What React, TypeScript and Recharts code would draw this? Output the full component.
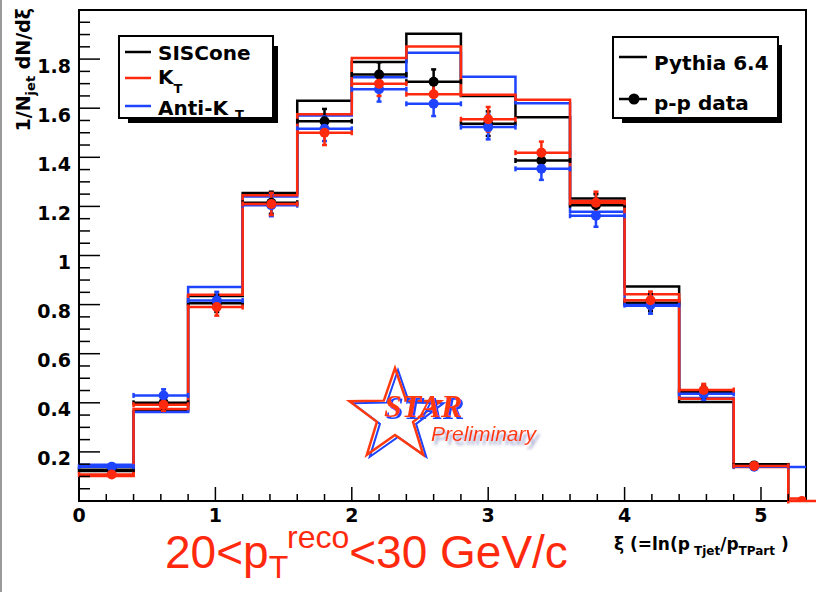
import React from 'react';
import { ComposedChart, Line, Scatter, ErrorBar, XAxis, YAxis, ReferenceArea } from 'recharts';

// xi bin edges (0.4 wide)
const binEdges = [0, 0.4, 0.8, 1.2, 1.6, 2.0, 2.4, 2.8, 3.2, 3.6, 4.0, 4.4, 4.8, 5.2, 5.6];

// Pythia 6.4, one value per bin
const pythiaSISCone = [0.122, 0.366, 0.835, 1.255, 1.63, 1.788, 1.903, 1.65, 1.563, 1.232, 0.874, 0.403, 0.15, 0];
const pythiaKt = [0.102, 0.375, 0.84, 1.245, 1.575, 1.804, 1.851, 1.655, 1.634, 1.222, 0.842, 0.417, 0.138, 0.01];
const pythiaAntiKt = [0.148, 0.363, 0.872, 1.24, 1.57, 1.726, 1.826, 1.728, 1.62, 1.178, 0.795, 0.42, 0.143, 0.138];

// p-p data points
const dataXi = [0.24, 0.62, 1.01, 1.41, 1.8, 2.2, 2.6, 3.0, 3.39, 3.79, 4.19, 4.58, 4.95, 5.3];
const dataSISCone = [0.127, 0.4, 0.805, 1.215, 1.547, 1.737, 1.708, 1.537, 1.387, 1.205, 0.808, 0.445, 0.145];
const dataKt = [0.108, 0.392, 0.79, 1.21, 1.5, 1.7, 1.657, 1.555, 1.419, 1.215, 0.818, 0.452, 0.143, 0];
const dataAntiKt = [0.14, 0.43, 0.817, 1.205, 1.516, 1.677, 1.618, 1.523, 1.353, 1.162, 0.798, 0.437, 0.14];
const dataErr = [0.01, 0.025, 0.035, 0.045, 0.05, 0.05, 0.05, 0.05, 0.045, 0.045, 0.035, 0.025, 0.01, 0];

// axis ticks
const xTicks = [0, 1, 2, 3, 4, 5];
const yTicks = [0.2, 0.4, 0.6, 0.8, 1, 1.2, 1.4, 1.6, 1.8];
const xMinor = Array.from({ length: 27 }, (_, i) => +(i * 0.2).toFixed(1));
const yMinor = Array.from({ length: 39 }, (_, i) => +((i + 1) * 0.05).toFixed(2));

const X_MAX = 5.33;
const Y_MAX = 2.0;

const RED = '#ff2a0e';
const BLUE = '#1e44ff';
const BLACK = '#000000';
const LOGO_RED = '#ff3a10';
const TICK_FONT = '"DejaVu Sans", sans-serif';

const histRows = binEdges.map((x, i) => {
  const b = Math.min(i, pythiaKt.length - 1);
  return { x, siscone: pythiaSISCone[b], kt: pythiaKt[b], antikt: pythiaAntiKt[b] };
});

function points(values: number[]) {
  return values.map((y, i) => {
    const xi = dataXi[i];
    const b = Math.min(Math.floor(xi / 0.4), binEdges.length - 2);
    return { x: xi, y, ey: dataErr[i], ex: [xi - binEdges[b], binEdges[b + 1] - xi] };
  });
}

const isMajor = (list: number[], v: number) => list.some((t) => Math.abs(t - v) < 1e-6);

const XTick = (props: any) => {
  const { x, y, payload } = props;
  const major = isMajor(xTicks, payload.value);
  return (
    <g>
      <line x1={x} x2={x} y1={y} y2={y - (major ? 14 : 7)} stroke={BLACK} strokeWidth={1.5} />
      {major && (
        <text x={x} y={y + 21} textAnchor="middle" fontFamily={TICK_FONT} fontWeight="bold" fontSize={19} fill={BLACK}>
          {String(payload.value)}
        </text>
      )}
    </g>
  );
};

const YTick = (props: any) => {
  const { x, y, payload } = props;
  const major = isMajor(yTicks, payload.value);
  return (
    <g>
      <line x1={x} x2={x + (major ? 21 : 11)} y1={y} y2={y} stroke={BLACK} strokeWidth={1.5} />
      {major && (
        <text x={x - 8} y={y + 6.5} textAnchor="end" dominantBaseline="central" fontFamily={TICK_FONT} fontWeight="bold" fontSize={19} fill={BLACK}>
          {String(payload.value)}
        </text>
      )}
    </g>
  );
};

const dot = (color: string) => (p: any) => <circle cx={p.cx} cy={p.cy} r={5} fill={color} />;

function DataSeries(values: number[], color: string, name: string) {
  return (
    <Scatter key={name} name={name} data={points(values)} shape={dot(color)} fill={color} isAnimationActive={false}>
      <ErrorBar dataKey="ey" direction="y" width={2.5} stroke={color} strokeWidth={2.5} />
      <ErrorBar dataKey="ex" direction="x" width={2.5} stroke={color} strokeWidth={2.5} />
    </Scatter>
  );
}

function starPoints(cx: number, cy: number, r1: number, r2: number) {
  const pts: string[] = [];
  for (let k = 0; k < 10; k++) {
    const a = -Math.PI / 2 + (k * Math.PI) / 5;
    const r = k % 2 === 0 ? r1 : r2;
    pts.push(`${cx + r * Math.cos(a)},${cy + r * Math.sin(a)}`);
  }
  return pts.join(' ');
}

const boldText = { fontFamily: TICK_FONT, fontWeight: 'bold' as const, fill: BLACK };

function Overlay() {
  return (
    <svg width={816} height={592} style={{ position: 'absolute', left: 0, top: 0, pointerEvents: 'none' }}>
      <defs>
        {/* blue offset copy behind the logo lettering */}
        <filter id="blueShadow" x="-10%" y="-20%" width="130%" height="150%">
          <feOffset in="SourceAlpha" dx="2" dy="2" result="off" />
          <feFlood floodColor={BLUE} />
          <feComposite in2="off" operator="in" result="shadow" />
          <feMerge>
            <feMergeNode in="shadow" />
            <feMergeNode in="SourceGraphic" />
          </feMerge>
        </filter>
        {/* soft grey drop shadow */}
        <filter id="softShadow" x="-10%" y="-30%" width="130%" height="180%">
          <feGaussianBlur in="SourceAlpha" stdDeviation="1.5" result="blur" />
          <feOffset in="blur" dx="3" dy="4" result="off" />
          <feFlood floodColor="#9aa0c8" />
          <feComposite in2="off" operator="in" result="shadow" />
          <feMerge>
            <feMergeNode in="shadow" />
            <feMergeNode in="SourceGraphic" />
          </feMerge>
        </filter>
      </defs>
      <line x1={1} y1={0} x2={1} y2={592} stroke="#9a9a9a" strokeWidth={2} />

      {/* y axis title */}
      <text transform="translate(30,8) rotate(-90)" textAnchor="end" fontSize={19} {...boldText}>
        1/N<tspan fontSize={13} dy={5}>jet</tspan>
        <tspan dy={-5}> dN/dξ</tspan>
      </text>

      {/* x axis title */}
      <text x={614} y={550} fontSize={17} {...boldText}>
        ξ (=ln(p<tspan fontSize={12} dy={5}> Tjet</tspan>
        <tspan dy={-5}>/p</tspan>
        <tspan fontSize={12} dy={5}>TPart</tspan>
        <tspan dy={-5}> )</tspan>
      </text>

      {/* pT bin */}
      <text x={165} y={568} fontFamily='"Liberation Sans", Arial, sans-serif' fontSize={46} fill={RED}>
        20&lt;p<tspan fontSize={32} dy={10}>T</tspan>
        <tspan fontSize={32} dy={-30}>reco</tspan>
        <tspan dy={20}>&lt;30 GeV/c</tspan>
      </text>

      {/* algorithm legend */}
      <rect x={128} y={46} width={150} height={77} fill={BLACK} />
      <rect x={119} y={36} width={154} height={82} fill="#fff" stroke={BLACK} strokeWidth={2} />
      <line x1={125} x2={151} y1={52} y2={52} stroke={BLACK} strokeWidth={2.5} />
      <text x={158} y={60} fontSize={20} {...boldText}>SISCone</text>
      <line x1={125} x2={151} y1={78} y2={78} stroke={RED} strokeWidth={2.5} />
      <text x={158} y={84} fontSize={20} {...boldText}>
        K<tspan fontSize={13} dy={9}>T</tspan>
      </text>
      <line x1={125} x2={151} y1={106} y2={106} stroke={BLUE} strokeWidth={2.5} />
      <text x={158} y={114.5} fontSize={20} {...boldText}>
        Anti-K <tspan fontSize={13} dy={4}>T</tspan>
      </text>

      {/* MC / data legend */}
      <rect x={622} y={45} width={160} height={78} fill={BLACK} />
      <rect x={613} y={37} width={165} height={81} fill="#fff" stroke={BLACK} strokeWidth={2} />
      <line x1={619} x2={647} y1={57} y2={57} stroke={BLACK} strokeWidth={2.5} />
      <text x={654} y={70} fontSize={20} {...boldText}>Pythia 6.4</text>
      <line x1={619} x2={647} y1={99} y2={99} stroke={BLACK} strokeWidth={2.5} />
      <circle cx={634} cy={99} r={5.5} fill={BLACK} />
      <text x={654} y={110} fontSize={20} {...boldText}>p-p data</text>

      {/* STAR Preliminary */}
      <polygon points={starPoints(398, 418, 48, 19)} fill="#fff" stroke={BLUE} strokeWidth={2} />
      <polygon points={starPoints(395, 416, 48, 19)} fill="none" stroke={LOGO_RED} strokeWidth={2.5} />
      <text x={384} y={417} fontFamily='"Liberation Serif", serif' fontStyle="italic" fontWeight="bold" fontSize={32} fill={LOGO_RED} filter="url(#blueShadow)">STAR</text>
      <text x={431} y={441} fontFamily='"Liberation Sans", sans-serif' fontStyle="italic" fontSize={21} fill={LOGO_RED} filter="url(#softShadow)">Preliminary</text>
    </svg>
  );
}

export default function App() {
  return (
    <div style={{ position: 'absolute', left: 0, top: 0, width: 816, height: 592, background: '#fff' }}>
      <ComposedChart width={816} height={592} margin={{ top: 10, right: 10, bottom: 61, left: 0 }}>
        <XAxis
          type="number"
          dataKey="x"
          domain={[0, X_MAX]}
          allowDataOverflow
          ticks={xMinor}
          interval={0}
          tick={<XTick />}
          tickSize={0}
          tickMargin={0}
          tickLine={false}
          axisLine={false}
          height={30}
        />
        <YAxis
          type="number"
          dataKey="y"
          domain={[0, Y_MAX]}
          allowDataOverflow
          ticks={yMinor}
          interval={0}
          tick={<YTick />}
          tickSize={0}
          tickMargin={0}
          tickLine={false}
          axisLine={false}
          width={79}
        />
        <ReferenceArea x1={0} x2={X_MAX} y1={0} y2={Y_MAX} fill="none" stroke={BLACK} strokeWidth={2} />
        <Line data={histRows} type="stepAfter" dataKey="siscone" stroke={BLACK} strokeWidth={2.5} dot={false} isAnimationActive={false} />
        <Line data={histRows} type="stepAfter" dataKey="antikt" stroke={BLUE} strokeWidth={2.5} dot={false} isAnimationActive={false} />
        <Line data={histRows} type="stepAfter" dataKey="kt" stroke={RED} strokeWidth={2.5} dot={false} isAnimationActive={false} />
        {DataSeries(dataSISCone, BLACK, 'SISCone')}
        {DataSeries(dataAntiKt, BLUE, 'Anti-kT')}
        {DataSeries(dataKt, RED, 'kT')}
      </ComposedChart>
      <Overlay />
    </div>
  );
}
